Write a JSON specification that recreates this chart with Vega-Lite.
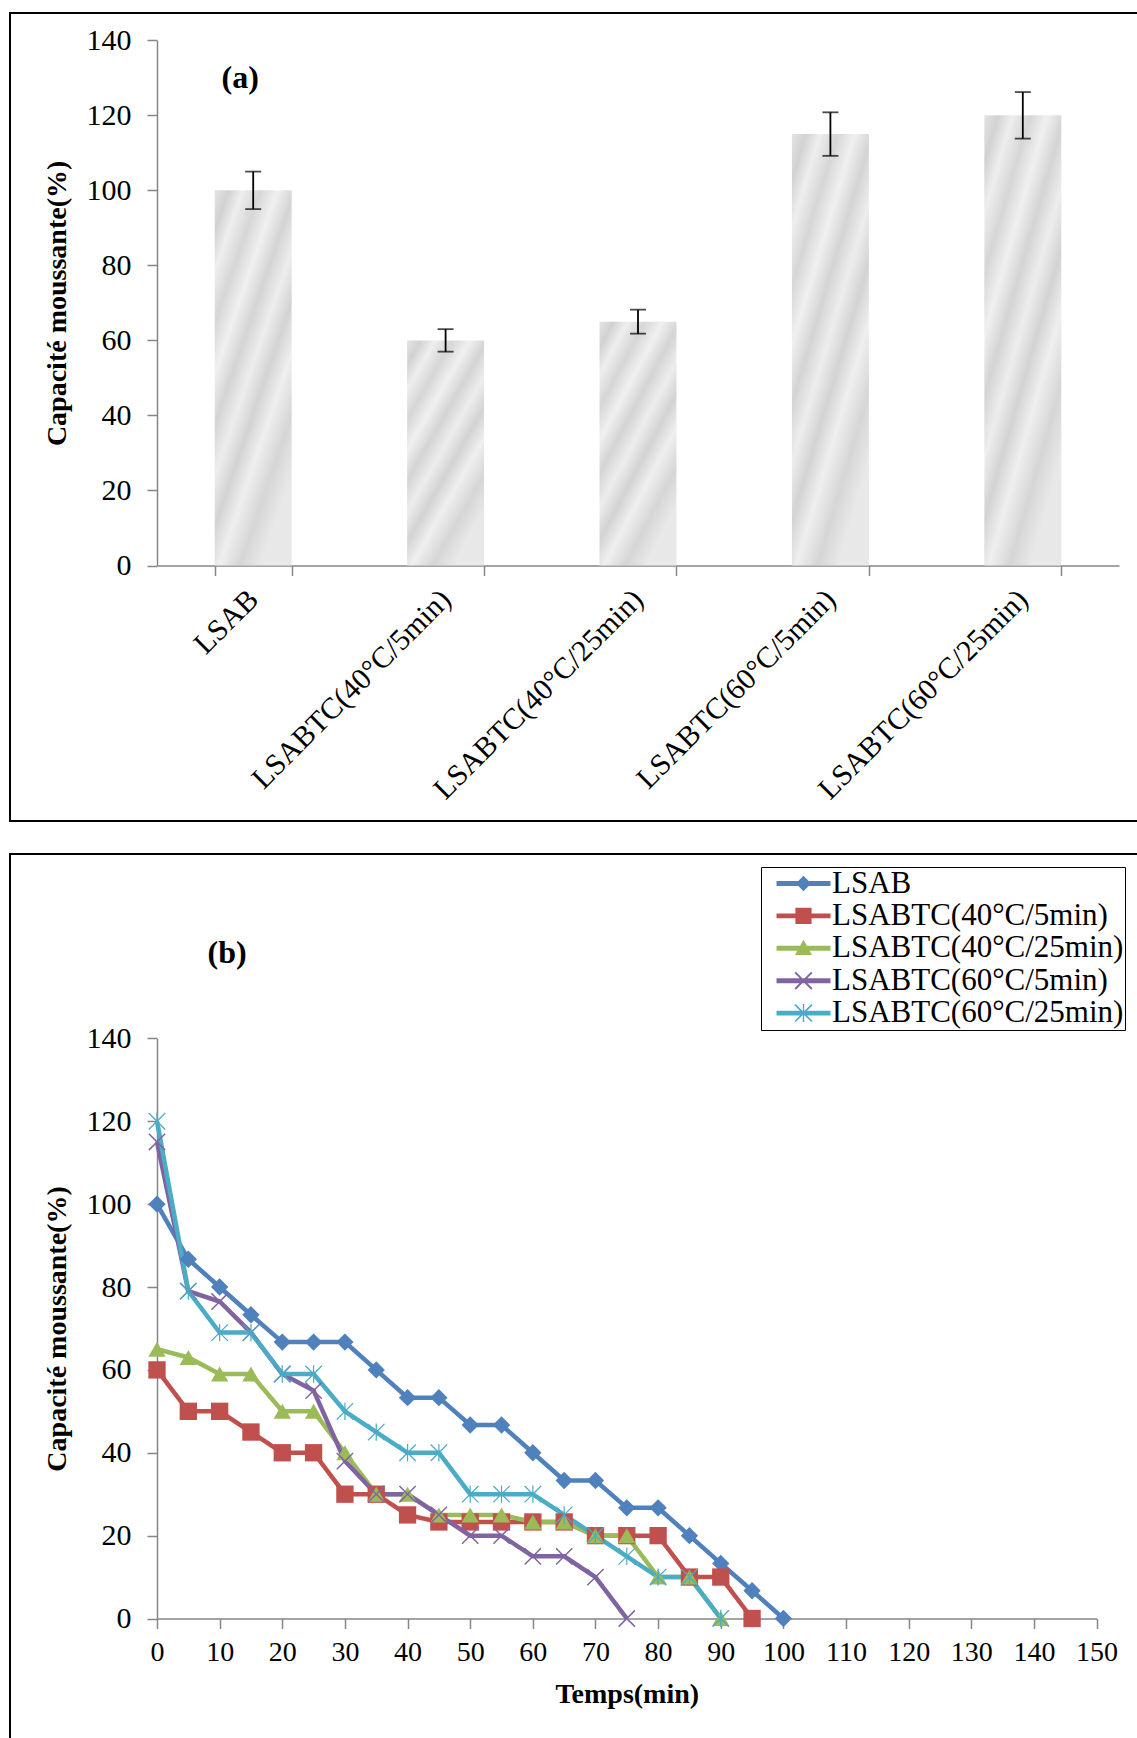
{
  "$schema": "https://vega.github.io/schema/vega-lite/v6.json",
  "padding": {"left": -2, "top": 12, "right": 0, "bottom": 0},
  "background": "white",
  "spacing": 31,
  "config": {
    "view": {"stroke": "black", "strokeWidth": 2},
    "font": "Liberation Serif",
    "style": {
      "guide-label": {"font": "Liberation Serif", "fill": "black"},
      "guide-title": {"font": "Liberation Serif", "fill": "black"}
    },
    "axis": {
      "grid": false,
      "domainColor": "#868686",
      "tickColor": "#868686",
      "domainWidth": 1.5,
      "tickWidth": 1.5,
      "tickSize": 10,
      "labelColor": "black",
      "labelFont": "Liberation Serif",
      "titleFont": "Liberation Serif",
      "titleFontWeight": "bold",
      "titleColor": "black",
      "labelFontSize": 30,
      "titleFontSize": 28,
      "labelFlush": false,
      "labelOverlap": false
    },
    "legend": {"labelFont": "Liberation Serif"}
  },
  "datasets": {
    "bars": [
      {"cat": "LSAB", "value": 100, "lo": 95, "hi": 105},
      {"cat": "LSABTC(40°C/5min)", "value": 60, "lo": 57, "hi": 63},
      {"cat": "LSABTC(40°C/25min)", "value": 65, "lo": 61.8, "hi": 68.2},
      {"cat": "LSABTC(60°C/5min)", "value": 115, "lo": 109.2, "hi": 120.8},
      {"cat": "LSABTC(60°C/25min)", "value": 120, "lo": 113.8, "hi": 126.2}
    ],
    "lines": [
      {"series": "LSAB", "t": 0, "v": 100},
      {"series": "LSAB", "t": 5, "v": 86.7},
      {"series": "LSAB", "t": 10, "v": 80},
      {"series": "LSAB", "t": 15, "v": 73.3},
      {"series": "LSAB", "t": 20, "v": 66.7},
      {"series": "LSAB", "t": 25, "v": 66.7},
      {"series": "LSAB", "t": 30, "v": 66.7},
      {"series": "LSAB", "t": 35, "v": 60},
      {"series": "LSAB", "t": 40, "v": 53.3},
      {"series": "LSAB", "t": 45, "v": 53.3},
      {"series": "LSAB", "t": 50, "v": 46.7},
      {"series": "LSAB", "t": 55, "v": 46.7},
      {"series": "LSAB", "t": 60, "v": 40},
      {"series": "LSAB", "t": 65, "v": 33.3},
      {"series": "LSAB", "t": 70, "v": 33.3},
      {"series": "LSAB", "t": 75, "v": 26.7},
      {"series": "LSAB", "t": 80, "v": 26.7},
      {"series": "LSAB", "t": 85, "v": 20},
      {"series": "LSAB", "t": 90, "v": 13.3},
      {"series": "LSAB", "t": 95, "v": 6.7},
      {"series": "LSAB", "t": 100, "v": 0},
      {"series": "LSABTC(40°C/5min)", "t": 0, "v": 60},
      {"series": "LSABTC(40°C/5min)", "t": 5, "v": 50},
      {"series": "LSABTC(40°C/5min)", "t": 10, "v": 50},
      {"series": "LSABTC(40°C/5min)", "t": 15, "v": 45},
      {"series": "LSABTC(40°C/5min)", "t": 20, "v": 40},
      {"series": "LSABTC(40°C/5min)", "t": 25, "v": 40},
      {"series": "LSABTC(40°C/5min)", "t": 30, "v": 30},
      {"series": "LSABTC(40°C/5min)", "t": 35, "v": 30},
      {"series": "LSABTC(40°C/5min)", "t": 40, "v": 25},
      {"series": "LSABTC(40°C/5min)", "t": 45, "v": 23.3},
      {"series": "LSABTC(40°C/5min)", "t": 50, "v": 23.3},
      {"series": "LSABTC(40°C/5min)", "t": 55, "v": 23.3},
      {"series": "LSABTC(40°C/5min)", "t": 60, "v": 23.3},
      {"series": "LSABTC(40°C/5min)", "t": 65, "v": 23.3},
      {"series": "LSABTC(40°C/5min)", "t": 70, "v": 20},
      {"series": "LSABTC(40°C/5min)", "t": 75, "v": 20},
      {"series": "LSABTC(40°C/5min)", "t": 80, "v": 20},
      {"series": "LSABTC(40°C/5min)", "t": 85, "v": 10},
      {"series": "LSABTC(40°C/5min)", "t": 90, "v": 10},
      {"series": "LSABTC(40°C/5min)", "t": 95, "v": 0},
      {"series": "LSABTC(40°C/25min)", "t": 0, "v": 65},
      {"series": "LSABTC(40°C/25min)", "t": 5, "v": 63},
      {"series": "LSABTC(40°C/25min)", "t": 10, "v": 59},
      {"series": "LSABTC(40°C/25min)", "t": 15, "v": 59},
      {"series": "LSABTC(40°C/25min)", "t": 20, "v": 50},
      {"series": "LSABTC(40°C/25min)", "t": 25, "v": 50},
      {"series": "LSABTC(40°C/25min)", "t": 30, "v": 40},
      {"series": "LSABTC(40°C/25min)", "t": 35, "v": 30},
      {"series": "LSABTC(40°C/25min)", "t": 40, "v": 30},
      {"series": "LSABTC(40°C/25min)", "t": 45, "v": 25},
      {"series": "LSABTC(40°C/25min)", "t": 50, "v": 25},
      {"series": "LSABTC(40°C/25min)", "t": 55, "v": 25},
      {"series": "LSABTC(40°C/25min)", "t": 60, "v": 23.3},
      {"series": "LSABTC(40°C/25min)", "t": 65, "v": 23.3},
      {"series": "LSABTC(40°C/25min)", "t": 70, "v": 20},
      {"series": "LSABTC(40°C/25min)", "t": 75, "v": 20},
      {"series": "LSABTC(40°C/25min)", "t": 80, "v": 10},
      {"series": "LSABTC(40°C/25min)", "t": 85, "v": 10},
      {"series": "LSABTC(40°C/25min)", "t": 90, "v": 0},
      {"series": "LSABTC(60°C/5min)", "t": 0, "v": 115},
      {"series": "LSABTC(60°C/5min)", "t": 5, "v": 79},
      {"series": "LSABTC(60°C/5min)", "t": 10, "v": 76.5},
      {"series": "LSABTC(60°C/5min)", "t": 15, "v": 69},
      {"series": "LSABTC(60°C/5min)", "t": 20, "v": 59},
      {"series": "LSABTC(60°C/5min)", "t": 25, "v": 55},
      {"series": "LSABTC(60°C/5min)", "t": 30, "v": 38},
      {"series": "LSABTC(60°C/5min)", "t": 35, "v": 30},
      {"series": "LSABTC(60°C/5min)", "t": 40, "v": 30},
      {"series": "LSABTC(60°C/5min)", "t": 45, "v": 25},
      {"series": "LSABTC(60°C/5min)", "t": 50, "v": 20},
      {"series": "LSABTC(60°C/5min)", "t": 55, "v": 20},
      {"series": "LSABTC(60°C/5min)", "t": 60, "v": 15},
      {"series": "LSABTC(60°C/5min)", "t": 65, "v": 15},
      {"series": "LSABTC(60°C/5min)", "t": 70, "v": 10},
      {"series": "LSABTC(60°C/5min)", "t": 75, "v": 0},
      {"series": "LSABTC(60°C/25min)", "t": 0, "v": 120},
      {"series": "LSABTC(60°C/25min)", "t": 5, "v": 79},
      {"series": "LSABTC(60°C/25min)", "t": 10, "v": 69},
      {"series": "LSABTC(60°C/25min)", "t": 15, "v": 69},
      {"series": "LSABTC(60°C/25min)", "t": 20, "v": 59},
      {"series": "LSABTC(60°C/25min)", "t": 25, "v": 59},
      {"series": "LSABTC(60°C/25min)", "t": 30, "v": 50},
      {"series": "LSABTC(60°C/25min)", "t": 35, "v": 45},
      {"series": "LSABTC(60°C/25min)", "t": 40, "v": 40},
      {"series": "LSABTC(60°C/25min)", "t": 45, "v": 40},
      {"series": "LSABTC(60°C/25min)", "t": 50, "v": 30},
      {"series": "LSABTC(60°C/25min)", "t": 55, "v": 30},
      {"series": "LSABTC(60°C/25min)", "t": 60, "v": 30},
      {"series": "LSABTC(60°C/25min)", "t": 65, "v": 25},
      {"series": "LSABTC(60°C/25min)", "t": 70, "v": 20},
      {"series": "LSABTC(60°C/25min)", "t": 75, "v": 15},
      {"series": "LSABTC(60°C/25min)", "t": 80, "v": 10},
      {"series": "LSABTC(60°C/25min)", "t": 85, "v": 10},
      {"series": "LSABTC(60°C/25min)", "t": 90, "v": 0}
    ]
  },
  "vconcat": [
    {
      "width": 1140,
      "height": 808,
      "data": {"name": "bars"},
      "layer": [
        {
          "mark": {
            "type": "bar",
            "color": {
              "gradient": "linear",
              "x1": 0, "y1": 0, "x2": 0.6, "y2": 1,
              "stops": [
                {"offset": 0, "color": "#e4e4e4"},
                {"offset": 0.08, "color": "#d2d2d2"},
                {"offset": 0.16, "color": "#eeeeee"},
                {"offset": 0.26, "color": "#d6d6d6"},
                {"offset": 0.36, "color": "#f0f0f0"},
                {"offset": 0.46, "color": "#d4d4d4"},
                {"offset": 0.56, "color": "#ededed"},
                {"offset": 0.66, "color": "#d3d3d3"},
                {"offset": 0.76, "color": "#efefef"},
                {"offset": 0.88, "color": "#d6d6d6"},
                {"offset": 1, "color": "#e8e8e8"}
              ]
            }
          },
          "encoding": {
            "x": {
              "field": "cat", "type": "nominal",
              "scale": {
                "domain": ["LSAB", "LSABTC(40°C/5min)", "LSABTC(40°C/25min)", "LSABTC(60°C/5min)", "LSABTC(60°C/25min)"],
                "range": [147, 1109],
                "paddingInner": 0.6,
                "paddingOuter": 0.3
              },
              "axis": {
                "title": null,
                "offset": -255.5,
                "tickBand": "extent",
                "labelAngle": -45,
                "labelAlign": "right",
                "labelBaseline": "middle",
                "labelPadding": 19,
                "labelFont": "Liberation Serif",
                "labelFontSize": 30,
                "labelLimit": 500,
                "encode": {"labels": {"update": {"font": {"value": "Liberation Serif"}}}}
              }
            },
            "y": {
              "field": "value", "type": "quantitative",
              "scale": {"domain": [0, 140], "range": [552.5, 27.3], "nice": false},
              "axis": {
                "title": "Capacité moussante(%)",
                "values": [0, 20, 40, 60, 80, 100, 120, 140],
                "offset": -147,
                "labelFont": "Liberation Serif",
                "titleFont": "Liberation Serif",
                "labelPadding": 16,
                "titlePadding": 15,
                "encode": {"labels": {"update": {"font": {"value": "Liberation Serif"}}}}
              }
            }
          }
        },
        {
          "mark": {"type": "rule", "color": "black", "strokeWidth": 1.8},
          "encoding": {
            "x": {"field": "cat", "type": "nominal"},
            "y": {"field": "lo", "type": "quantitative"},
            "y2": {"field": "hi"}
          }
        },
        {
          "mark": {"type": "tick", "orient": "horizontal", "color": "black", "size": 16, "thickness": 1.8},
          "encoding": {
            "x": {"field": "cat", "type": "nominal"},
            "y": {"field": "lo", "type": "quantitative"}
          }
        },
        {
          "mark": {"type": "tick", "orient": "horizontal", "color": "black", "size": 16, "thickness": 1.8},
          "encoding": {
            "x": {"field": "cat", "type": "nominal"},
            "y": {"field": "hi", "type": "quantitative"}
          }
        },
        {
          "data": {"values": [{"cat": "LSAB", "y": 130, "label": "(a)"}]},
          "mark": {"type": "text", "font": "Liberation Serif", "fontWeight": "bold", "fontSize": 32, "dx": -13, "baseline": "middle", "color": "black"},
          "encoding": {
            "x": {"field": "cat", "type": "nominal"},
            "y": {"field": "y", "type": "quantitative"},
            "text": {"field": "label"}
          }
        }
      ]
    },
    {
      "width": 1140,
      "height": 895,
      "data": {"name": "lines"},
      "layer": [
        {
          "mark": {"type": "line", "strokeWidth": 4.5},
          "encoding": {
            "x": {
              "field": "t", "type": "quantitative",
              "scale": {"domain": [0, 150], "range": [147, 1086.6], "nice": false},
              "axis": {
                "title": "Temps(min)",
                "values": [0, 5, 10, 15, 20, 25, 30, 35, 40, 45, 50, 55, 60, 65, 70, 75, 80, 85, 90, 95, 100, 105, 110, 115, 120, 125, 130, 135, 140, 145, 150],
                "labelExpr": "datum.value % 10 == 0 ? datum.label : ''",
                "offset": -130.5,
                "labelFont": "Liberation Serif",
                "titleFont": "Liberation Serif",
                "labelFontSize": 28,
                "labelPadding": 10,
                "titlePadding": 14,
                "encode": {"labels": {"update": {"font": {"value": "Liberation Serif"}}}}
              }
            },
            "y": {
              "field": "v", "type": "quantitative",
              "scale": {"domain": [0, 140], "range": [764.5, 184.4], "nice": false},
              "axis": {
                "title": "Capacité moussante(%)",
                "values": [0, 20, 40, 60, 80, 100, 120, 140],
                "offset": -147,
                "labelFont": "Liberation Serif",
                "titleFont": "Liberation Serif",
                "labelPadding": 16,
                "titlePadding": 15,
                "encode": {"labels": {"update": {"font": {"value": "Liberation Serif"}}}}
              }
            },
            "color": {
              "field": "series", "type": "nominal",
              "scale": {
                "domain": ["LSAB", "LSABTC(40°C/5min)", "LSABTC(40°C/25min)", "LSABTC(60°C/5min)", "LSABTC(60°C/25min)"],
                "range": ["#4F81BD", "#C0504D", "#9BBB59", "#8064A2", "#4BACC6"]
              },
              "legend": null
            }
          }
        },
        {
          "mark": {"type": "point", "filled": true, "size": 300, "opacity": 1},
          "encoding": {
            "x": {"field": "t", "type": "quantitative"},
            "y": {"field": "v", "type": "quantitative"},
            "color": {
              "field": "series", "type": "nominal",
              "scale": {
                "domain": ["LSAB", "LSABTC(40°C/5min)", "LSABTC(40°C/25min)", "LSABTC(60°C/5min)", "LSABTC(60°C/25min)"],
                "range": ["#4F81BD", "#C0504D", "#9BBB59", "#8064A2", "#4BACC6"]
              },
              "legend": null
            },
            "shape": {
              "field": "series", "type": "nominal",
              "scale": {
                "domain": ["LSAB", "LSABTC(40°C/5min)", "LSABTC(40°C/25min)", "LSABTC(60°C/5min)", "LSABTC(60°C/25min)"],
                "range": [
                  "diamond",
                  "square",
                  "triangle-up",
                  "M-1,-0.88L-0.88,-1L1,0.88L0.88,1ZM0.88,-1L1,-0.88L-0.88,1L-1,0.88Z",
                  "M-1,-0.9L-0.9,-1L1,0.9L0.9,1ZM0.9,-1L1,-0.9L-0.9,1L-1,0.9ZM-0.07,-1L0.07,-1L0.07,1L-0.07,1Z"
                ]
              },
              "legend": null
            }
          }
        },
        {
          "data": {"values": []},
          "mark": {"type": "point", "filled": true, "size": 324, "opacity": 1},
          "encoding": {
            "x": {"field": "t", "type": "quantitative"},
            "y": {"field": "v", "type": "quantitative"},
            "color": {
              "field": "series", "type": "nominal",
              "scale": {
                "domain": ["LSAB", "LSABTC(40°C/5min)", "LSABTC(40°C/25min)", "LSABTC(60°C/5min)", "LSABTC(60°C/25min)"],
                "range": ["#4F81BD", "#C0504D", "#9BBB59", "#8064A2", "#4BACC6"]
              },
              "legend": {
                "orient": "none",
                "legendX": 751,
                "legendY": 13,
                "title": null,
                "symbolSize": 324,
                "symbolStrokeWidth": 0,
                "symbolOpacity": 1,
                "labelFont": "Liberation Serif",
                "labelFontSize": 31,
                "labelColor": "black",
                "labelLimit": 500,
                "strokeColor": "black",
                "padding": 1,
                "rowPadding": 0.4,
                "symbolOffset": 26,
                "labelOffset": 13
              }
            },
            "shape": {
              "field": "series", "type": "nominal",
              "scale": {
                "domain": ["LSAB", "LSABTC(40°C/5min)", "LSABTC(40°C/25min)", "LSABTC(60°C/5min)", "LSABTC(60°C/25min)"],
                "range": [
                  "M-3,-0.27L3,-0.27L3,0.27L-3,0.27ZM0,-0.85L0.85,0L0,0.85L-0.85,0Z",
                  "M-3,-0.27L3,-0.27L3,0.27L-3,0.27ZM-0.9,-0.9L0.9,-0.9L0.9,0.9L-0.9,0.9Z",
                  "M-3,-0.27L3,-0.27L3,0.27L-3,0.27ZM0,-0.95L0.95,0.75L-0.95,0.75Z",
                  "M-3,-0.27L3,-0.27L3,0.27L-3,0.27ZM-1,-0.85L-0.85,-1L1,0.85L0.85,1ZM0.85,-1L1,-0.85L-0.85,1L-1,0.85Z",
                  "M-3,-0.27L3,-0.27L3,0.27L-3,0.27ZM-1,-0.87L-0.87,-1L1,0.87L0.87,1ZM0.87,-1L1,-0.87L-0.87,1L-1,0.87ZM-0.08,-1L0.08,-1L0.08,1L-0.08,1Z"
                ]
              },
              "legend": {
                "orient": "none",
                "legendX": 751,
                "legendY": 13,
                "title": null,
                "symbolSize": 324,
                "symbolStrokeWidth": 0,
                "symbolOpacity": 1,
                "labelFont": "Liberation Serif",
                "labelFontSize": 31,
                "labelColor": "black",
                "labelLimit": 500,
                "strokeColor": "black",
                "padding": 1,
                "rowPadding": 0.4,
                "symbolOffset": 26,
                "labelOffset": 13
              }
            }
          }
        },
        {
          "data": {"values": [{"t": 11.2, "v": 160.6, "label": "(b)"}]},
          "mark": {"type": "text", "font": "Liberation Serif", "fontWeight": "bold", "fontSize": 32, "baseline": "middle", "color": "black"},
          "encoding": {
            "x": {"field": "t", "type": "quantitative"},
            "y": {"field": "v", "type": "quantitative"},
            "text": {"field": "label"}
          }
        }
      ],
      "resolve": {"scale": {"color": "independent", "shape": "independent"}}
    }
  ]
}
